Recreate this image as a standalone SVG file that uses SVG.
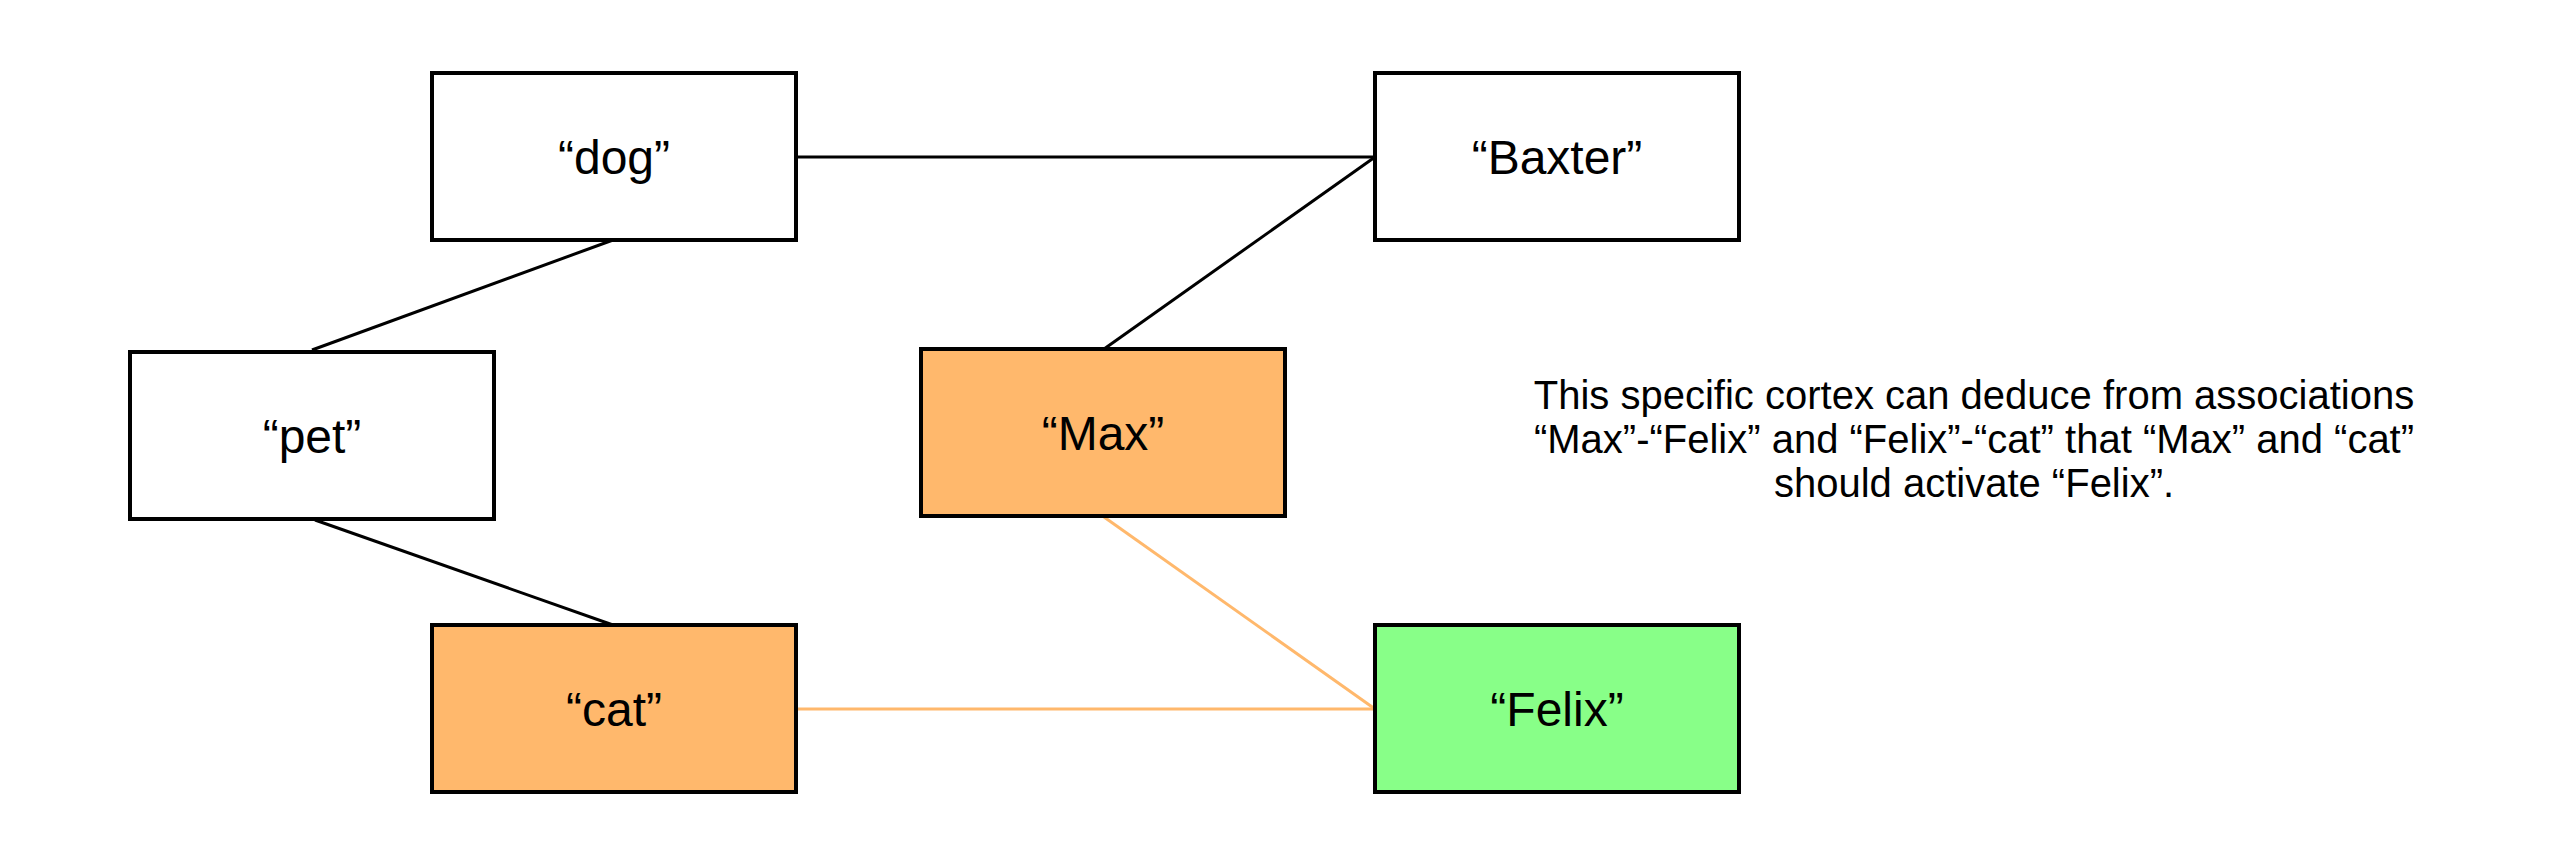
<svg xmlns="http://www.w3.org/2000/svg" width="2558" height="866" viewBox="0 0 2558 866">
<style>
.box{stroke:#000;stroke-width:4}
.lbl{font-family:"Liberation Sans",Arial,sans-serif;font-size:48px;text-anchor:middle;fill:#000}
.note{font-family:"Liberation Sans",Arial,sans-serif;font-size:40px;text-anchor:middle;fill:#000}
.k{stroke:#000;stroke-width:3;fill:none}
.o{stroke:#FFB86C;stroke-width:3;fill:none}
</style>
<rect width="2558" height="866" fill="#fff"/>
<g id="connectors">
<line class="k" x1="796" y1="157" x2="1375" y2="157"/>
<line class="k" x1="613" y1="240" x2="312" y2="350"/>
<line class="k" x1="1375" y1="157" x2="1104" y2="349"/>
<line class="k" x1="315" y1="520" x2="613" y2="625"/>
<line class="o" x1="1104" y1="517" x2="1375" y2="709"/>
<line class="o" x1="796" y1="709" x2="1375" y2="709"/>
</g>
<g id="dog"><rect class="box" x="432" y="73" width="364" height="167" fill="#fff"/><text class="lbl" x="614" y="174">“dog”</text></g>
<g id="baxter"><rect class="box" x="1375" y="73" width="364" height="167" fill="#fff"/><text class="lbl" x="1557" y="174">“Baxter”</text></g>
<g id="pet"><rect class="box" x="130" y="352" width="364" height="167" fill="#fff"/><text class="lbl" x="312" y="453">“pet”</text></g>
<g id="max"><rect class="box" x="921" y="349" width="364" height="167" fill="#FFB86C"/><text class="lbl" x="1103" y="450">“Max”</text></g>
<g id="cat"><rect class="box" x="432" y="625" width="364" height="167" fill="#FFB86C"/><text class="lbl" x="614" y="726">“cat”</text></g>
<g id="felix"><rect class="box" x="1375" y="625" width="364" height="167" fill="#88FF88"/><text class="lbl" x="1557" y="726">“Felix”</text></g>
<g id="note">
<text class="note" x="1974" y="409">This specific cortex can deduce from associations</text>
<text class="note" x="1974" y="453">“Max”-“Felix” and “Felix”-“cat” that “Max” and “cat”</text>
<text class="note" x="1974" y="497">should activate “Felix”.</text>
</g>
</svg>
